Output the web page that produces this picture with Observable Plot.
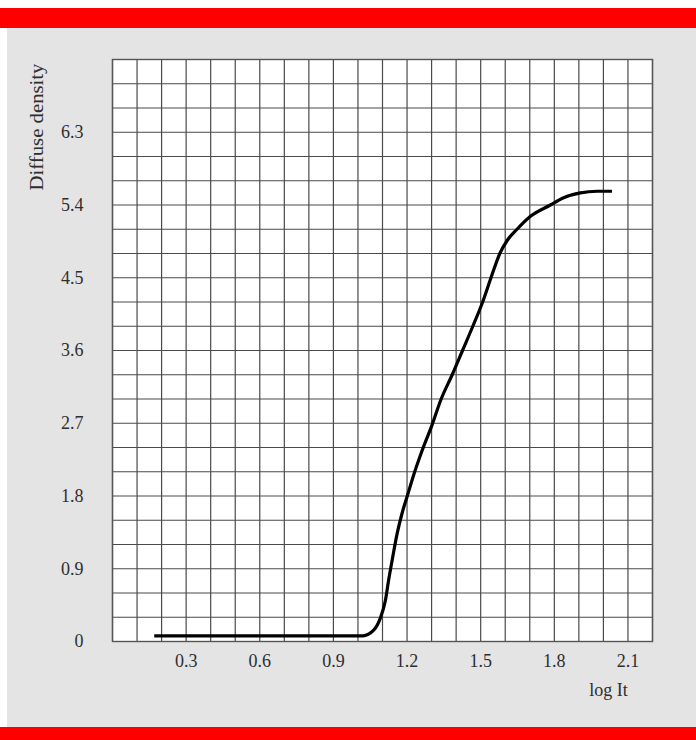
<!DOCTYPE html>
<html>
<head>
<meta charset="utf-8">
<script src="https://cdn.jsdelivr.net/npm/d3@7"></script>
<script src="https://cdn.jsdelivr.net/npm/@observablehq/plot@0.6"></script>
<style>
  html, body { margin: 0; padding: 0; background: #ffffff; }
  body { width: 696px; height: 740px; position: relative; overflow: hidden; }
  #bandTop { position: absolute; left: 0; top: 8px; width: 696px; height: 20px; background: #fe0000; }
  #panel { position: absolute; left: 7px; top: 28px; width: 689px; height: 699px; background: #e4e4e4; }
  #bandBottom { position: absolute; left: 0; top: 727px; width: 696px; height: 13px; background: #fe0000; }
  #panel svg { display: block; }
</style>
</head>
<body>
<div id="bandTop"></div>
<div id="panel"></div>
<div id="bandBottom"></div>
<script>
// Data
const logIt = [0.17, 1.02, 1.064, 1.09, 1.112, 1.125, 1.139, 1.16, 1.18, 1.2, 1.227, 1.26, 1.302, 1.339, 1.384, 1.426, 1.468, 1.508, 1.542, 1.578, 1.61, 1.648, 1.703, 1.784, 1.838, 1.906, 1.974, 2.035];
const density = [0.07, 0.07, 0.14, 0.28, 0.51, 0.76, 1.0, 1.34, 1.59, 1.79, 2.06, 2.35, 2.68, 3.0, 3.3, 3.6, 3.9, 4.2, 4.5, 4.8, 4.97, 5.1, 5.26, 5.4, 5.49, 5.55, 5.57, 5.57];

// Tick labels
const xTicks = [0.3, 0.6, 0.9, 1.2, 1.5, 1.8, 2.1];
const yTicks = [0, 0.9, 1.8, 2.7, 3.6, 4.5, 5.4, 6.3];
const xLabel = "log It";
const yLabel = "Diffuse density";

const points = logIt.map((x, i) => ({x, y: density[i]}));
const xGrid = d3.range(0, 23).map(i => i / 10);
const yGrid = d3.range(0, 25).map(i => i * 0.3);

const chart = Plot.plot({
  width: 689,
  height: 699,
  marginLeft: 105,
  marginRight: 44,
  marginTop: 31,
  marginBottom: 86,
  style: {
    fontFamily: "'Liberation Serif', 'Times New Roman', serif",
    fontSize: "18px",
    color: "#2e2e2e",
    background: "transparent"
  },
  x: {domain: [0, 2.2]},
  y: {domain: [0, 7.2]},
  marks: [
    Plot.frame({fill: "white", stroke: null}),
    Plot.gridX(xGrid, {stroke: "#4a4a4a", strokeOpacity: 1, strokeWidth: 1.2}),
    Plot.gridY(yGrid, {stroke: "#4a4a4a", strokeOpacity: 1, strokeWidth: 1.2}),
    Plot.frame({stroke: "#555", strokeWidth: 1.4}),
    Plot.axisX(xTicks, {tickSize: 0, tickPadding: 13, label: null, fontSize: 18, tickFormat: d => String(d)}),
    Plot.axisY(yTicks, {tickSize: 0, tickPadding: 29, label: null, fontSize: 18, tickFormat: d => String(d)}),
    Plot.line(points, {x: "x", y: "y", curve: "monotone-x", stroke: "#000", strokeWidth: 3.2, strokeLinejoin: "round", strokeLinecap: "butt"}),
    Plot.text([xLabel], {frameAnchor: "bottom-right", dx: -44, dy: 54, textAnchor: "middle", fontSize: 18, fill: "#2e2e2e"}),
    Plot.text([yLabel], {frameAnchor: "top-left", dx: -82, dy: 4, rotate: -90, textAnchor: "end", fontSize: 18, fill: "#2e2e2e"})
  ]
});
document.getElementById("panel").appendChild(chart);
// stretch the rotated axis title along its length, as in the reference
chart.querySelectorAll("text").forEach(t => {
  if (t.textContent === yLabel) {
    t.setAttribute("textLength", "127");
    t.setAttribute("lengthAdjust", "spacingAndGlyphs");
  }
});
</script>
</body>
</html>
